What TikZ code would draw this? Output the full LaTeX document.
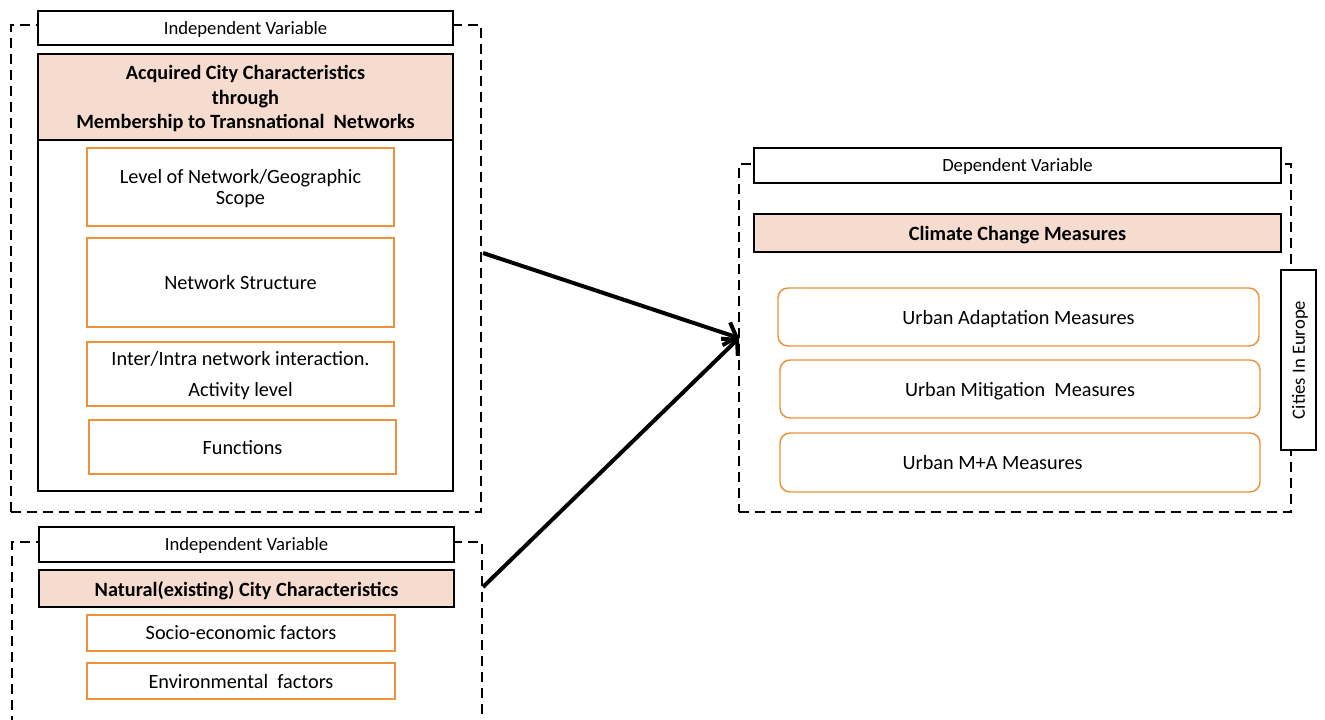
\documentclass[tikz,border=0pt]{standalone}
\usepackage{fontspec}
\setmainfont{Carlito}
\usetikzlibrary{arrows.meta}
\definecolor{salmon}{RGB}{246,220,207}
\definecolor{orng}{RGB}{238,145,60}
\newcommand\bx[7]{\node[#6, minimum width={(#4-#2)*0.75pt}, minimum height={(#5-#3)*0.75pt}] (#1) at ({(#2+#4)/2},{(#3+#5)/2}) {#7};}
\tikzset{
  base/.style={inner sep=0pt, outer sep=0pt, align=center, text depth=0pt, font=\fontsize{15.2}{18.4}\selectfont},
  dashbox/.style={base, draw=black, line width=1pt, dash pattern=on 7.5pt off 4.5pt},
  labelbox/.style={base, draw=black, fill=white, line width=1.1pt, font=\fontsize{14}{17}\selectfont},
  headbox/.style={base, draw=black, fill=salmon, line width=1.1pt, font=\fontsize{15.2}{18.4}\bfseries\selectfont},
  framebox/.style={base, draw=black, line width=1.1pt},
  itembox/.style={base, draw=orng, fill=white, line width=1.1pt},
  rbox/.style={base, draw=orng, fill=white, line width=1.1pt, rounded corners=7.5pt},
  bigarrow/.style={line width=3pt, -{Straight Barb[length=8pt,width=18pt]}}
}
\begin{document}
\begin{tikzpicture}[x=0.75pt,y=-0.75pt]
\useasboundingbox (0,0) rectangle (1325,720);
\clip (0,0) rectangle (1325,720);
% dashed frames
\bx{ind1}{11}{25}{481}{512}{dashbox}{}
\bx{ind2}{12}{542}{482}{740}{dashbox}{}
\bx{dep}{739}{164}{1291}{512}{dashbox}{}
% top-left group
\bx{iv1}{38}{11}{453}{45}{labelbox}{Independent Variable}
\bx{frame1}{38}{140}{453}{491}{framebox}{}
\bx{acq}{38}{54}{453}{140}{headbox}{Acquired City Characteristics\\through\\Membership to Transnational~ Networks}
\bx{lvl}{87}{148}{394}{226}{itembox,font=\fontsize{15.2}{15.8}\selectfont}{Level of Network/Geographic\\Scope}
\bx{struct}{87}{238}{394}{327}{itembox}{Network Structure}
\bx{inter}{87}{342}{394}{406}{itembox,font=\fontsize{15.2}{23}\selectfont}{Inter/Intra network interaction.\\Activity level}
\bx{func}{89}{420}{396}{474}{itembox}{Functions}
% bottom-left group
\bx{iv2}{39}{527}{454}{562}{labelbox}{Independent Variable}
\bx{nat}{39}{570}{454}{607}{headbox}{Natural(existing) City Characteristics}
\bx{socio}{87}{615}{395}{651}{itembox}{Socio-economic factors}
\bx{env}{87}{663}{395}{699}{itembox}{Environmental~ factors}
% right group
\bx{dv}{754}{148}{1281}{183}{labelbox}{Dependent Variable}
\bx{ccm}{754}{214}{1281}{252}{headbox}{Climate Change Measures}
\bx{uad}{778}{288}{1259}{346}{rbox}{Urban Adaptation Measures}
\bx{umi}{780}{360}{1260}{418}{rbox}{Urban Mitigation~ Measures}
\bx{uma}{780}{433}{1260}{492}{rbox}{\hspace*{-41pt}Urban M+A Measures}
\node[labelbox, rotate=90, minimum width={180*0.75pt}, minimum height={35*0.75pt}] (eu) at (1298.5,360) {Cities In Europe};
% arrows
\coordinate (s1) at (483,253);
\coordinate (s2) at (483,587);
\draw[bigarrow] (s1) -- (dep.west);
\draw[bigarrow] (s2) -- (dep.west);
\end{tikzpicture}
\end{document}
